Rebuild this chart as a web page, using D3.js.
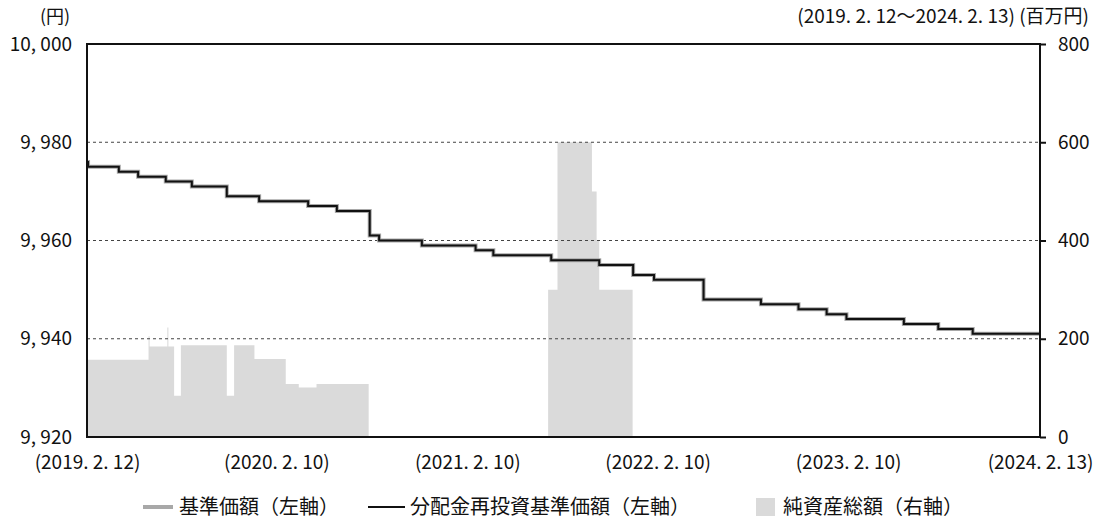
<!DOCTYPE html>
<html>
<head>
<meta charset="utf-8">
<script src="https://cdn.jsdelivr.net/npm/d3@7"></script>
<style>
  body { margin: 0; background: #fff; }
  svg text { font-family: "Noto Sans CJK JP", "Noto Sans", sans-serif; fill: #111; }
</style>
</head>
<body>
<div class="chart"></div>
<script>
// 分配金再投資基準価額 / 基準価額 (円) - step values, each holds until the next date
const navDates = ["2019-02-12", "2019-02-14", "2019-04-14", "2019-05-21", "2019-07-13", "2019-09-01",
  "2019-11-07", "2020-01-08", "2020-04-11", "2020-06-05", "2020-08-07", "2020-08-25", "2020-11-15",
  "2021-02-26", "2021-04-01", "2021-07-21", "2021-10-21", "2021-12-25", "2022-02-03", "2022-05-09",
  "2022-08-27", "2022-11-07", "2022-12-31", "2023-02-07", "2023-05-28", "2023-08-02", "2023-10-07",
  "2024-02-13"];
const navValues = [9976, 9975, 9974, 9973, 9972, 9971, 9969, 9968, 9967, 9966, 9961, 9960, 9959,
  9958, 9957, 9956, 9955, 9953, 9952, 9948, 9947, 9946, 9945, 9944, 9943, 9942, 9941, 9941];

// 純資産総額 (百万円)
const assetDates = ["2019-02-12", "2019-06-10", "2019-06-12", "2019-07-16", "2019-07-18", "2019-07-29",
  "2019-08-11", "2019-11-07", "2019-11-21", "2019-12-30", "2020-02-28", "2020-03-24", "2020-04-27",
  "2020-08-05", "2021-07-15", "2021-08-02", "2021-10-07", "2021-10-16", "2021-10-21", "2021-12-24",
  "2024-02-13"];
const assetValues = [157, 205, 184, 223, 184, 84, 187, 84, 187, 159, 108, 101, 108,
  0, 300, 600, 500, 400, 300, 0, 0];

const xTickDates = ["2019-02-12", "2020-02-10", "2021-02-10", "2022-02-10", "2023-02-10", "2024-02-13"];
const leftTicks = [9920, 9940, 9960, 9980, 10000];
const rightTicks = [0, 200, 400, 600, 800];
const gridTicks = [9940, 9960, 9980];

const parse = d3.timeParse("%Y-%m-%d");
const nav = navDates.map((d, i) => ({ date: parse(d), value: navValues[i] }));
const assets = assetDates.map((d, i) => ({ date: parse(d), value: assetValues[i] }));

const W = 1096, H = 519;
const m = { left: 87, right: 1040, top: 44, bottom: 437 };

const svg = d3.select(".chart").append("svg").attr("width", W).attr("height", H);

const x = d3.scaleTime()
  .domain([parse(xTickDates[0]), parse(xTickDates[xTickDates.length - 1])])
  .range([m.left, m.right]);
const yL = d3.scaleLinear().domain([9920, 10000]).range([m.bottom, m.top]);
const yR = d3.scaleLinear().domain([0, 800]).range([m.bottom, m.top]);

// net assets area
svg.append("path")
  .datum(assets)
  .attr("fill", "#dadada")
  .attr("d", d3.area().curve(d3.curveStepAfter)
    .x(d => x(d.date)).y0(yR(0)).y1(d => yR(d.value)));

// gridlines
svg.append("g").selectAll("line").data(gridTicks).join("line")
  .attr("x1", m.left).attr("x2", m.right)
  .attr("y1", d => yL(d)).attr("y2", d => yL(d))
  .attr("stroke", "#444").attr("stroke-width", 1).attr("stroke-dasharray", "3,3");

const line = d3.line().curve(d3.curveStepAfter).x(d => x(d.date)).y(d => yL(d.value));

// 基準価額 (gray) underneath, 分配金再投資基準価額 (black) on top
svg.append("path").datum(nav)
  .attr("fill", "none").attr("stroke", "#a8a8a8").attr("stroke-width", 4)
  .attr("d", line);
svg.append("path").datum(nav)
  .attr("fill", "none").attr("stroke", "#111").attr("stroke-width", 2)
  .attr("d", line);

// frame
svg.append("rect")
  .attr("x", m.left).attr("y", m.top).attr("width", m.right - m.left).attr("height", m.bottom - m.top)
  .attr("fill", "none").attr("stroke", "#111").attr("stroke-width", 2);

const fmt = d => d3.format(",")(d).replace(",", ", ");

const axL = svg.append("g")
  .attr("transform", "translate(" + m.left + ",0)")
  .call(d3.axisLeft(yL).tickValues(leftTicks).tickSize(0).tickPadding(15).tickFormat(fmt));
axL.select(".domain").remove();
axL.selectAll("text").style("font-size", "19px").attr("font-family", null);

const axR = svg.append("g")
  .attr("transform", "translate(" + m.right + ",0)")
  .call(d3.axisRight(yR).tickValues(rightTicks).tickSize(6).tickPadding(12));
axR.select(".domain").remove();
axR.selectAll("line").attr("stroke", "#111").attr("stroke-width", 2);
axR.selectAll("text").style("font-size", "19px").attr("font-family", null);

const axB = svg.append("g")
  .attr("transform", "translate(0," + m.bottom + ")")
  .call(d3.axisBottom(x).tickValues(xTickDates.map(parse)).tickSize(0).tickPadding(19)
    .tickFormat(d3.timeFormat("(%Y. %-m. %-d)")));
axB.select(".domain").remove();
axB.selectAll("text").style("font-size", "19px").attr("font-family", null);

// unit labels
svg.append("text").attr("x", 55).attr("y", 23).attr("text-anchor", "middle")
  .style("font-size", "18px").text("(円)");
svg.append("text").attr("x", 1089).attr("y", 23).attr("text-anchor", "end")
  .style("font-size", "19px").text("(2019. 2. 12～2024. 2. 13) (百万円)");

// legend
const lg = svg.append("g").attr("transform", "translate(0,507)");
lg.append("line").attr("x1", 143).attr("x2", 173).attr("y1", 0).attr("y2", 0)
  .attr("stroke", "#a8a8a8").attr("stroke-width", 4);
lg.append("text").attr("x", 179).attr("y", 7).style("font-size", "20px").text("基準価額（左軸）");
lg.append("line").attr("x1", 368).attr("x2", 405).attr("y1", 0).attr("y2", 0)
  .attr("stroke", "#111").attr("stroke-width", 2);
lg.append("text").attr("x", 410).attr("y", 7).style("font-size", "20px").text("分配金再投資基準価額（左軸）");
lg.append("rect").attr("x", 756).attr("y", -9).attr("width", 19).attr("height", 18).attr("fill", "#dadada");
lg.append("text").attr("x", 783).attr("y", 7).style("font-size", "20px").text("純資産総額（右軸）");
</script>
</body>
</html>
